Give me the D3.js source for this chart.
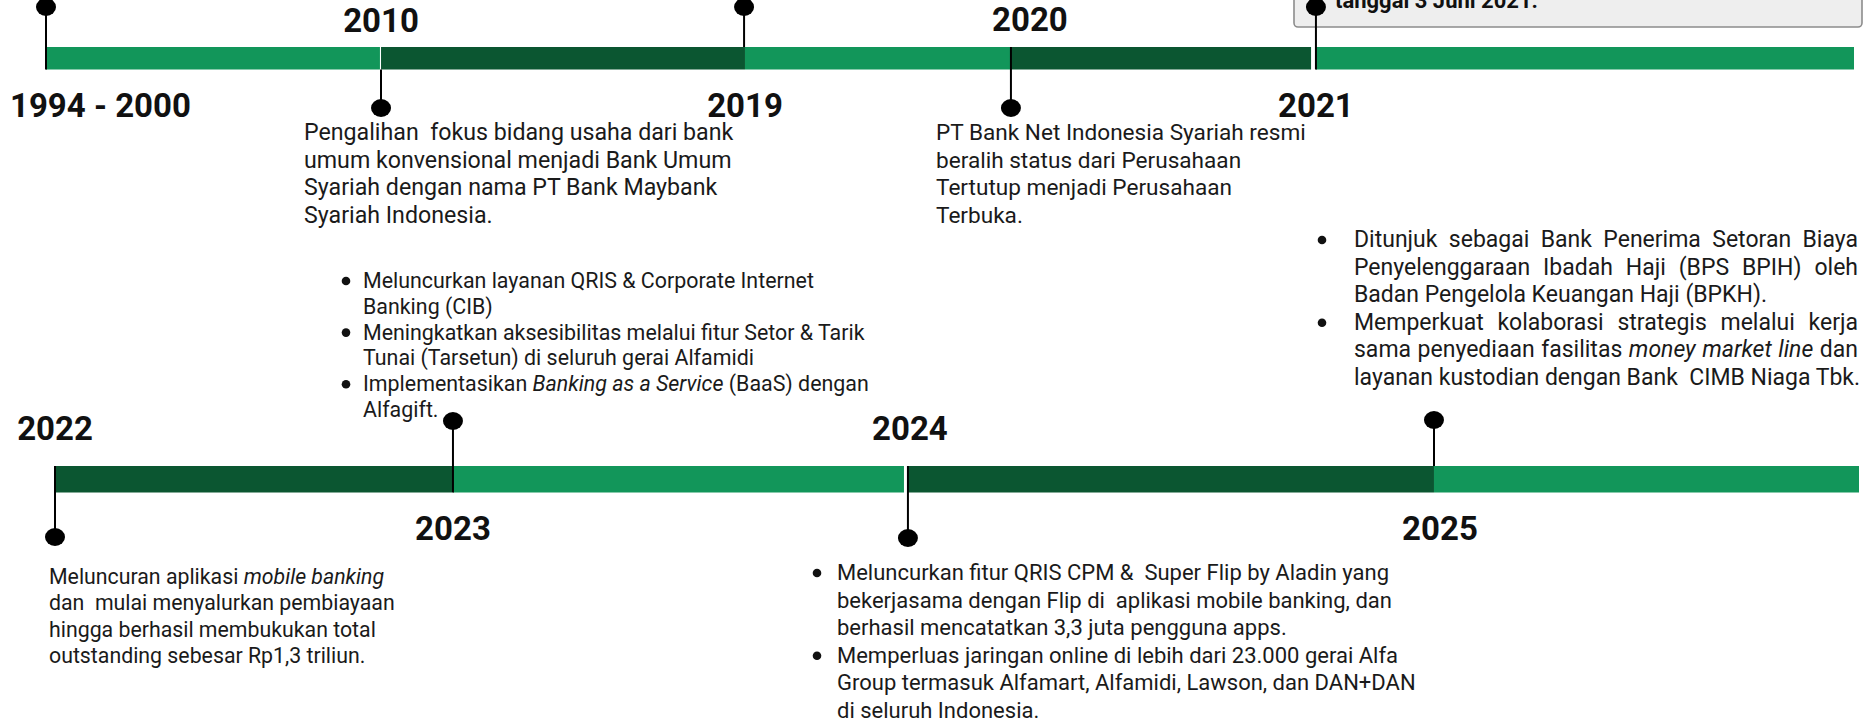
<!DOCTYPE html>
<html><head><meta charset="utf-8">
<script src="https://cdn.jsdelivr.net/npm/d3@7"></script>
<style>
html,body{margin:0;padding:0;background:#fff;}
svg{display:block;}
text{font-family:Roboto,"Noto Sans",sans-serif;}
</style></head><body>
<svg id="chart" width="1864" height="724"></svg>
<script>
// ---------------- DATA ----------------
// timeline positions are in "timeline units" 0..100 along each row
const topYears    = ["1994 - 2000", "2010", "2019", "2020", "2021"];
const topMarkers  = [0, 18.53, 38.61, 53.37, 70.24];
const topSegStart = [0, 18.53, 38.66, 53.37, 70.24];
const topSegEnd   = [18.47, 38.66, 53.37, 69.97, 100];
const topShades   = ["light", "dark", "light", "dark", "light"];

const bottomYears    = ["2022", "2023", "2024", "2025"];
const bottomMarkers  = [0, 22.06, 47.28, 76.44];
const bottomSegStart = [0, 22.06, 47.28, 76.44];
const bottomSegEnd   = [22.01, 47.06, 76.44, 100];
const bottomShades   = ["dark", "light", "dark", "light"];

const boxText = "tanggal 3 Juni 2021.";

const note2010 = [[
  "Pengalihan  fokus bidang usaha dari bank",
  "umum konvensional menjadi Bank Umum",
  "Syariah dengan nama PT Bank Maybank",
  "Syariah Indonesia."
]];
const note2020 = [[
  "PT Bank Net Indonesia Syariah resmi",
  "beralih status dari Perusahaan",
  "Tertutup menjadi Perusahaan",
  "Terbuka."
]];
const note2021 = [
  ["Ditunjuk sebagai Bank Penerima Setoran Biaya",
   "Penyelenggaraan Ibadah Haji (BPS BPIH) oleh",
   "Badan Pengelola Keuangan Haji (BPKH)."],
  ["Memperkuat kolaborasi strategis melalui kerja",
   "sama penyediaan fasilitas *money market line* dan",
   "layanan kustodian dengan Bank  CIMB Niaga Tbk."]
];
const note2022 = [[
  "Meluncuran aplikasi *mobile banking*",
  "dan  mulai menyalurkan pembiayaan",
  "hingga berhasil membukukan total",
  "outstanding sebesar Rp1,3 triliun."
]];
const note2023 = [
  ["Meluncurkan layanan QRIS & Corporate Internet", "Banking (CIB)"],
  ["Meningkatkan aksesibilitas melalui fitur Setor & Tarik", "Tunai (Tarsetun) di seluruh gerai Alfamidi"],
  ["Implementasikan *Banking as a Service* (BaaS) dengan", "Alfagift."]
];
const note2024 = [
  ["Meluncurkan fitur QRIS CPM &  Super Flip by Aladin yang",
   "bekerjasama dengan Flip di  aplikasi mobile banking, dan",
   "berhasil mencatatkan 3,3 juta pengguna apps."],
  ["Memperluas jaringan online di lebih dari 23.000 gerai Alfa",
   "Group termasuk Alfamart, Alfamidi, Lawson, dan DAN+DAN",
   "di seluruh Indonesia."]
];

// ---------------- LAYOUT / STYLE ----------------
const COLORS = {light: "#12965a", dark: "#0b5631"};
const LABEL_FS = 33;
const svg = d3.select("#chart");

const rows = {
  top:    {x: d3.scaleLinear().domain([0, 100]).range([46, 1854]), y0: 47, y1: 69.5},
  bottom: {x: d3.scaleLinear().domain([0, 100]).range([55, 1859]), y0: 466, y1: 492.5}
};

const topLayout = [
  {dot: 7,   l0: 7,    l1: 69.5, anchor: "start",  lx: 10,  dx: 0,  ly: 117},
  {dot: 108, l0: 69.5, l1: 108,  anchor: "middle", dx: 0,   ly: 32},
  {dot: 7,   l0: 7,    l1: 47,   anchor: "middle", dx: 1,   ly: 117},
  {dot: 108, l0: 47,   l1: 108,  anchor: "middle", dx: 19,  ly: 31},
  {dot: 7,   l0: 7,    l1: 69.5, anchor: "middle", dx: 0,   ly: 117}
];
const bottomLayout = [
  {dot: 537, l0: 466, l1: 537,   anchor: "middle", dx: 0, ly: 440},
  {dot: 421, l0: 421, l1: 492.5, anchor: "middle", dx: 0, ly: 540},
  {dot: 538, l0: 466, l1: 538,   anchor: "middle", dx: 2, ly: 440},
  {dot: 420, l0: 420, l1: 466,   anchor: "middle", dx: 6, ly: 540}
];

// grey note box at the top right (partly outside the page)
svg.append("rect").attr("x", 1294).attr("y", -20).attr("width", 568).attr("height", 47)
  .attr("rx", 4).attr("fill", "#eeeeee").attr("stroke", "#8c8c8c").attr("stroke-width", 1.6);
svg.append("text").attr("x", 1335).attr("y", 8).attr("font-size", 22)
  .attr("font-weight", 700).attr("fill", "#111").text(boxText);

function drawRow(row, starts, ends, shades, markers, years, layout) {
  const g = svg.append("g");
  g.selectAll("rect.seg").data(starts.map((s, i) => ({s, e: ends[i], c: shades[i]})))
    .join("rect").attr("class", "seg")
    .attr("x", d => row.x(d.s)).attr("width", d => row.x(d.e) - row.x(d.s))
    .attr("y", row.y0).attr("height", row.y1 - row.y0)
    .attr("fill", d => COLORS[d.c]);
  const m = markers.map((v, i) => ({v, year: years[i], L: layout[i]}));
  g.selectAll("line.stem").data(m).join("line").attr("class", "stem")
    .attr("x1", d => row.x(d.v)).attr("x2", d => row.x(d.v))
    .attr("y1", d => d.L.l0).attr("y2", d => d.L.l1)
    .attr("stroke", "#000").attr("stroke-width", 2);
  g.selectAll("ellipse.dot").data(m).join("ellipse").attr("class", "dot")
    .attr("cx", d => row.x(d.v)).attr("cy", d => d.L.dot)
    .attr("rx", 10).attr("ry", 9).attr("fill", "#000");
  g.selectAll("text.year").data(m).join("text").attr("class", "year")
    .attr("x", d => d.L.anchor === "start" ? d.L.lx : row.x(d.v) + d.L.dx)
    .attr("y", d => d.L.ly).attr("text-anchor", d => d.L.anchor)
    .attr("font-size", LABEL_FS).attr("font-weight", 700).attr("fill", "#111")
    .text(d => d.year);
}
drawRow(rows.top, topSegStart, topSegEnd, topShades, topMarkers, topYears, topLayout);
drawRow(rows.bottom, bottomSegStart, bottomSegEnd, bottomShades, bottomMarkers, bottomYears, bottomLayout);

// text helpers
const meas = svg.append("text").attr("x", -9999).attr("y", -9999).style("white-space", "pre");
function measure(str, it, fs) {
  meas.attr("font-size", fs).attr("font-style", it ? "italic" : "normal").text(str);
  return meas.node().getComputedTextLength();
}
function runs(line) {
  return line.split("*").map((t, i) => ({t, it: i % 2 === 1})).filter(r => r.t.length);
}
function drawBlock(paras, opt) {
  const g = svg.append("g");
  let y = opt.y;
  paras.forEach(lines => {
    if (opt.bx != null) {
      g.append("circle").attr("cx", opt.bx).attr("cy", y - 7).attr("r", 4.3).attr("fill", "#111");
    }
    lines.forEach((line, li) => {
      const t = g.append("text").attr("x", opt.x).attr("y", y)
        .attr("font-size", opt.fs).attr("fill", "#1a1a1a").style("white-space", "pre");
      const justify = opt.width && li < lines.length - 1;
      if (!justify) {
        runs(line).forEach(r => t.append("tspan").attr("font-style", r.it ? "italic" : null).text(r.t));
      } else {
        const words = [];
        runs(line).forEach(r => r.t.split(/\s+/).filter(w => w).forEach(w => words.push({w, it: r.it})));
        words.forEach(w => w.len = measure(w.w, w.it, opt.fs));
        const total = d3.sum(words, w => w.len);
        const gap = (opt.width - total) / (words.length - 1);
        let cx = opt.x;
        words.forEach(w => {
          t.append("tspan").attr("x", cx).attr("font-style", w.it ? "italic" : null).text(w.w);
          cx += w.len + gap;
        });
      }
      y += opt.lh;
    });
  });
}
drawBlock(note2010, {x: 304, y: 140, lh: 27.6, fs: 23.2});
drawBlock(note2020, {x: 936, y: 140, lh: 27.6, fs: 22.6});
drawBlock(note2021, {x: 1354, y: 247, lh: 27.6, bx: 1322, width: 504, fs: 23});
drawBlock(note2023, {x: 363, y: 288, lh: 25.8, bx: 346, fs: 21.4});
drawBlock(note2022, {x: 49, y: 584, lh: 26.3, fs: 21.3});
drawBlock(note2024, {x: 837, y: 580, lh: 27.6, bx: 817, fs: 22});
meas.remove();
</script>
</body></html>
